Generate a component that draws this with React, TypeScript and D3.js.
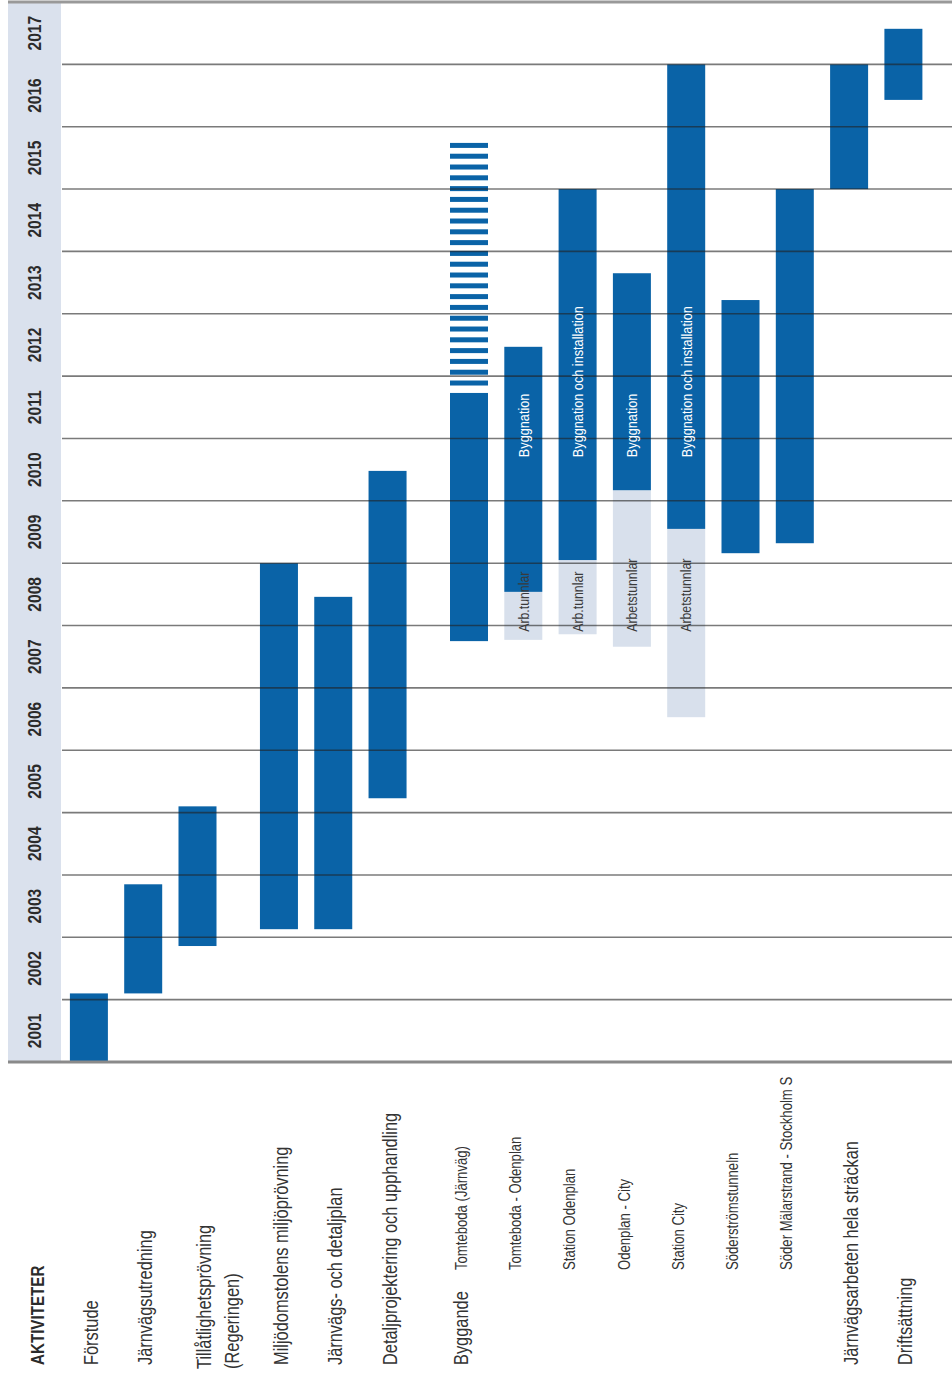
import React from "react";
import * as d3 from "d3";

// tick labels (one band per year)
const yearTicks = [2001, 2002, 2003, 2004, 2005, 2006, 2007, 2008, 2009, 2010, 2011, 2012, 2013, 2014, 2015, 2016, 2017];

// activities, left to right
const activities = [
  "Förstude",
  "Järnvägsutredning",
  "Tillåtlighetsprövning",
  "Miljödomstolens miljöprövning",
  "Järnvägs- och detaljplan",
  "Detaljprojektering och upphandling",
  "Tomteboda (Järnväg)",
  "Tomteboda - Odenplan",
  "Station Odenplan",
  "Odenplan - City",
  "Station City",
  "Söderströmstunneln",
  "Söder Mälarstrand - Stockholm S",
  "Järnvägsarbeten hela sträckan",
  "Driftsättning",
];
const phase = [0, 0, 0, 1, 1, 1, 2, 2, 2, 2, 2, 2, 2, 2, 2];
const subItem = [false, false, false, false, false, false, true, true, true, true, true, true, true, false, false];

// main (dark) period, in decimal years
const startYear = [2001.0, 2002.1, 2002.86, 2003.13, 2003.13, 2005.23, 2007.75, 2008.54, 2009.05, 2010.17, 2009.55, 2009.16, 2009.32, 2015.0, 2016.43];
const endYear = [2002.1, 2003.85, 2005.1, 2009.0, 2008.46, 2010.48, 2011.73, 2012.47, 2015.0, 2013.65, 2017.0, 2013.22, 2015.0, 2017.0, 2017.57];
// work tunnels (light) start, ends where the main period starts
const tunnelStart = [null, null, null, null, null, null, null, 2007.77, 2007.86, 2007.66, 2006.53, null, null, null, null];
// planned continuation (striped)
const plannedEnd = [null, null, null, null, null, null, 2015.74, null, null, null, null, null, null, null, null];

const buildLabel = [null, null, null, null, null, null, null, "Byggnation", "Byggnation och installation", "Byggnation", "Byggnation och installation", null, null, null, null];
const tunnelLabel = [null, null, null, null, null, null, null, "Arb.tunnlar", "Arb.tunnlar", "Arbetstunnlar", "Arbetstunnlar", null, null, null, null];

const W = 952;
const H = 1382;
const DARK = "#0a63a7";
const LIGHT = "#d8e0ec";
const FONT = "'Liberation Sans', Arial, sans-serif";
const NARROW = 0.82;

const rot = (x: number, y: number) => `translate(${x},${y}) rotate(-90) scale(${NARROW},1)`;

export default function App() {
  const y = d3.scaleLinear().domain([2001, 2018]).range([1062, 2]);
  const x = d3.scaleLinear().domain([0, 15]).range([88.9, 903.4]);
  const col = (i: number) => x(i + 0.5 * phase[i]);
  const bw = 38;
  const bandX0 = 8;
  const bandX1 = 61;
  const gridX0 = 62;
  const labelBase = 1365;
  const subBase = 1270;

  const stripeStep = 10.8;
  const stripes: { i: number; y0: number }[] = [];
  activities.forEach((_, i) => {
    const pe = plannedEnd[i];
    if (pe == null) return;
    const top = y(pe);
    const bottom = y(endYear[i]) - 5;
    for (let yy = top; yy + 5 <= bottom; yy += stripeStep) stripes.push({ i, y0: yy });
  });

  return (
    <svg width={W} height={H} style={{ position: "absolute", left: 0, top: 0, background: "#fff" }}>
      {/* year band */}
      <rect x={bandX0} y={y(2018)} width={bandX1 - bandX0} height={y(2001) - y(2018)} fill="#dae1ed" />

      {/* work tunnel periods */}
      {activities.map((a, i) =>
        tunnelStart[i] == null ? null : (
          <rect key={"t" + a} x={col(i) - bw / 2} y={y(startYear[i])} width={bw} height={y(tunnelStart[i] as number) - y(startYear[i])} fill={LIGHT} />
        )
      )}

      {/* main periods */}
      {activities.map((a, i) => (
        <rect key={"b" + a} x={col(i) - bw / 2} y={y(endYear[i])} width={bw} height={y(startYear[i]) - y(endYear[i])} fill={DARK} />
      ))}

      {/* planned, striped */}
      {stripes.map((s, k) => (
        <rect key={"s" + k} x={col(s.i) - bw / 2} y={s.y0} width={bw} height={5} fill={DARK} />
      ))}

      {/* grid */}
      {yearTicks.slice(1).map((t) => (
        <line key={"g" + t} x1={gridX0} x2={W} y1={y(t)} y2={y(t)} stroke="#222" strokeOpacity={0.6} strokeWidth={1.6} />
      ))}
      <line x1={bandX0} x2={W} y1={y(2018)} y2={y(2018)} stroke="#999" strokeWidth={3} />
      <line x1={bandX0} x2={W} y1={y(2001)} y2={y(2001)} stroke="#8a8a8a" strokeWidth={3} />

      {/* year labels */}
      {yearTicks.map((t) => (
        <text
          key={"y" + t}
          transform={rot((bandX0 + bandX1) / 2, y(t + 0.5))}
          textAnchor="middle"
          dy="0.35em"
          fontFamily={FONT}
          fontWeight="bold"
          fontSize={19}
          fill="#2b2b2b"
        >
          {t}
        </text>
      ))}

      {/* labels inside bars */}
      {activities.map((a, i) =>
        buildLabel[i] == null ? null : (
          <text key={"bl" + a} transform={rot(col(i), y(2010.7))} dy="0.35em" fontFamily={FONT} fontSize={15.5} fill="#fff">
            {buildLabel[i]}
          </text>
        )
      )}
      {activities.map((a, i) =>
        tunnelLabel[i] == null ? null : (
          <text key={"tl" + a} transform={rot(col(i), y(2007.9))} dy="0.35em" fontFamily={FONT} fontSize={15} fill="#3a3a3a">
            {tunnelLabel[i]}
          </text>
        )
      )}

      {/* activity labels */}
      <text transform={rot(38, labelBase)} dy="0.35em" fontFamily={FONT} fontWeight="bold" fontSize={18.5} fill="#2b2b2b">
        AKTIVITETER
      </text>
      <text transform={rot(col(6) - 8, labelBase)} dy="0.35em" fontFamily={FONT} fontSize={20} fill="#333">
        Byggande
      </text>
      {activities.map((a, i) => {
        const cx = subItem[i] ? col(i) - 8 : col(i) + 2;
        if (a === "Tillåtlighetsprövning") {
          return (
            <g key={"l" + a}>
              <text transform={rot(cx + 4, labelBase + 4)} dy="0.35em" fontFamily={FONT} fontSize={20} fill="#333">
                {a}
              </text>
              <text transform={rot(cx + 32, labelBase + 4)} dy="0.35em" fontFamily={FONT} fontSize={20} fill="#333">
                (Regeringen)
              </text>
            </g>
          );
        }
        return (
          <text
            key={"l" + a}
            transform={rot(cx, subItem[i] ? subBase : labelBase)}
            dy="0.35em"
            fontFamily={FONT}
            fontSize={subItem[i] ? 16 : 20}
            fill="#333"
          >
            {a}
          </text>
        );
      })}
    </svg>
  );
}
